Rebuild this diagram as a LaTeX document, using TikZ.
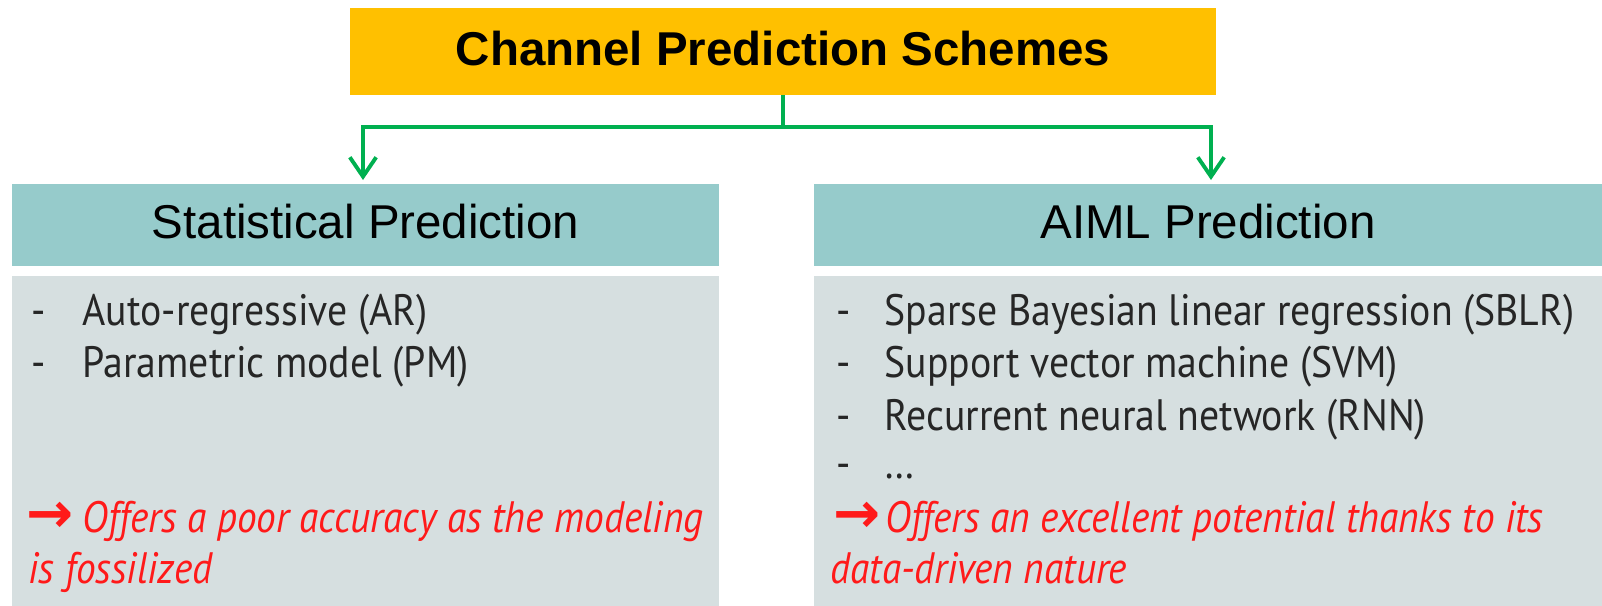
\documentclass[tikz,border=0pt]{standalone}
\usepackage{fontspec}
\setmainfont{Liberation Sans}
\newfontfamily\gill[FakeStretch=0.905]{PT Sans}
\newfontfamily\gillit[FakeStretch=0.895]{PT Sans}
\newfontfamily\symb{DejaVu Sans}
\usetikzlibrary{arrows.meta}
\definecolor{orangeC}{HTML}{FFC000}
\definecolor{tealH}{HTML}{96CBCB}
\definecolor{grayB}{HTML}{D6DFE0}
\definecolor{greenC}{HTML}{00B050}
\definecolor{redT}{HTML}{FF1A1A}
\definecolor{bodyT}{HTML}{262626}
\begin{document}
\begin{tikzpicture}[x=0.01cm,y=-0.01cm,
 box/.style={inner sep=0pt, outer sep=0pt, text depth=0pt},
 titlebox/.style={box, fill=orangeC, font=\fontsize{13.5}{16}\selectfont\bfseries},
 headbox/.style={box, fill=tealH, font=\fontsize{13.5}{16}\selectfont},
 bodybox/.style={box, fill=grayB},
 item/.style={anchor=base west, inner sep=0pt, text=bodyT, font=\gill\fontsize{12.5}{14}\selectfont},
 note/.style={anchor=base west, inner sep=0pt, text=redT, font=\gillit\itshape\fontsize{12.5}{14}\selectfont},
 rarrow/.style={anchor=base west, inner sep=0pt, text=redT, font=\symb\bfseries\fontsize{16}{18}\selectfont},
 conn/.style={draw=greenC, line width=1.1pt},
 tip/.style={-{Straight Barb[length=5.5pt,width=7.5pt]}}
]
\useasboundingbox (0,0) rectangle (1602,606);

\node[titlebox, minimum width=8.66cm, minimum height=0.87cm, text height=7.68pt] (top) at (783,51.5) {Channel Prediction Schemes};

\node[headbox, minimum width=7.07cm, minimum height=0.82cm, text height=7.4pt] (lh) at (365.5,225) {Statistical Prediction};
\node[headbox, minimum width=7.88cm, minimum height=0.82cm, text height=7.4pt] (rh) at (1208,225) {AIML Prediction};

\node[bodybox, minimum width=7.07cm, minimum height=3.30cm] (lb) at (365.5,441) {};
\node[bodybox, minimum width=7.88cm, minimum height=3.30cm] (rb) at (1208,441) {};

\coordinate (j) at (783,127);
\coordinate (jl) at (363,127);
\coordinate (jr) at (1211,127);
\coordinate (el) at (363,180);
\coordinate (er) at (1211,180);
\draw[conn] (top.south) -- (j);
\draw[conn, tip] (j) -- (jl) -- (el);
\draw[conn, tip] (j) -- (jr) -- (er);

% left items
\node[item] (ld1) at (31,325) {-};
\node[item] (lt1) at (82,325) {Auto-regressive (AR)};
\node[item] (ld2) at (31,377) {-};
\node[item] (lt2) at (82,377) {Parametric model (PM)};
\node[rarrow] (la) at (26,532) {→};
\node[note] (ln1) at (82,532) {Offers a poor accuracy as the modeling};
\node[note] (ln2) at (28,583) {is fossilized};

% right items
\node[item] (rd1) at (836,325) {-};
\node[item] (rt1) at (884,325) {Sparse Bayesian linear regression (SBLR)};
\node[item] (rd2) at (836,377) {-};
\node[item] (rt2) at (884,377) {Support vector machine (SVM)};
\node[item] (rd3) at (836,430) {-};
\node[item] (rt3) at (884,430) {Recurrent neural network (RNN)};
\node[item] (rd4) at (836,478) {-};
\node[item] (rt4) at (884,478) {\dots};
\node[rarrow] (ra) at (833,532) {→};
\node[note] (rn1) at (885,532) {Offers an excellent potential thanks to its};
\node[note] (rn2) at (830,583) {data-driven nature};
\end{tikzpicture}
\end{document}
